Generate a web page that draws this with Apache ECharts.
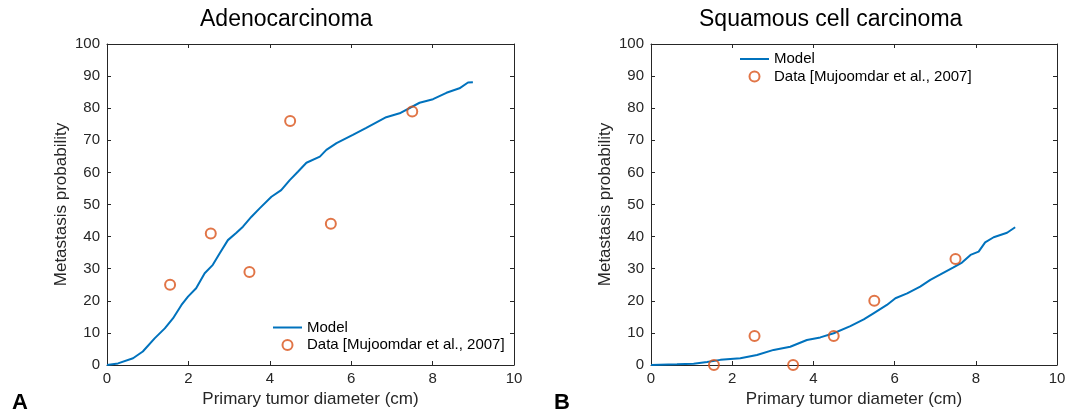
<!DOCTYPE html>
<html>
<head>
<meta charset="utf-8">
<script src="https://cdn.jsdelivr.net/npm/echarts@6/dist/echarts.min.js"></script>
<style>html,body{margin:0;padding:0;background:#fff}#c{width:1077px;height:414px}</style>
</head>
<body>
<div id="c"></div>
<script>
// ---- Data ----
const titles = ['Adenocarcinoma', 'Squamous cell carcinoma'];
const panelLabels = ['A', 'B'];
const xName = 'Primary tumor diameter (cm)';
const yName = 'Metastasis probability';
const modelName = 'Model';
const dataName = 'Data [Mujoomdar et al., 2007]';

const adenoModel = [
  [0,0],[0.27,0.5],[0.64,2.1],[0.88,4.2],[1.17,8.3],[1.42,11.4],[1.62,14.5],[1.83,18.7],
  [1.99,21.3],[2.19,23.9],[2.40,28.6],[2.60,31.2],[2.77,34.8],[2.97,38.9],[3.18,41.2],
  [3.34,43.1],[3.55,46.2],[3.75,48.8],[4.04,52.4],[4.28,54.5],[4.49,57.6],[4.69,60.2],
  [4.90,63.0],[5.23,64.9],[5.39,67.0],[5.64,69.1],[6.04,71.7],[6.37,73.9],[6.86,77.2],
  [7.19,78.4],[7.68,81.7],[8.01,82.8],[8.34,84.8],[8.66,86.2],[8.87,88.0],[8.99,88.1]
];
const adenoData = [[1.55,25],[2.55,41],[3.5,29],[4.5,76],[5.5,44],[7.5,79]];

const squamModel = [
  [0,0],[0.64,0.2],[1.05,0.4],[1.38,0.9],[1.71,1.6],[2.2,2.1],[2.61,3.1],[3.02,4.7],
  [3.43,5.7],[3.84,7.8],[4.17,8.6],[4.5,9.9],[4.91,12.1],[5.24,14.2],[5.48,16.1],
  [5.81,18.7],[6.02,20.8],[6.31,22.3],[6.63,24.4],[6.88,26.5],[7.13,28.2],[7.45,30.4],
  [7.66,31.9],[7.87,34.3],[8.07,35.3],[8.23,38.2],[8.44,39.8],[8.77,41.2],[8.97,42.9]
];
const squamData = [[1.55,0],[2.55,9],[3.5,0],[4.5,9],[5.5,20],[7.5,33]];

// ---- Styling ----
const axisColor = '#262626';
const lineColor = '#0072BD';
const dotColor = '#D95319';
const font = 'Liberation Sans, Arial, Helvetica, sans-serif';

function mainX(gi) {
  return {
    type: 'value', gridIndex: gi, min: 0, max: 10, interval: 2,
    name: xName, nameLocation: 'middle', nameGap: 25,
    nameTextStyle: { fontSize: 17, color: axisColor, fontFamily: font },
    axisLine: { show: true, onZero: false, lineStyle: { color: axisColor, width: 1 } },
    axisTick: { show: true, inside: true, length: 4, lineStyle: { color: axisColor } },
    axisLabel: { fontSize: 15, color: axisColor, fontFamily: font, margin: 6 },
    splitLine: { show: false }
  };
}
function topX(gi) {
  return {
    type: 'value', gridIndex: gi, min: 0, max: 10, interval: 2, position: 'top',
    axisLine: { show: true, onZero: false, lineStyle: { color: axisColor, width: 1 } },
    axisTick: { show: true, inside: true, length: 4, lineStyle: { color: axisColor } },
    axisLabel: { show: false }, splitLine: { show: false }
  };
}
function mainY(gi) {
  return {
    type: 'value', gridIndex: gi, min: 0, max: 100, interval: 10,
    name: yName, nameLocation: 'middle', nameGap: 37,
    nameTextStyle: { fontSize: 17, color: axisColor, fontFamily: font },
    axisLine: { show: true, onZero: false, lineStyle: { color: axisColor, width: 1 } },
    axisTick: { show: true, inside: true, length: 4, lineStyle: { color: axisColor } },
    axisLabel: { fontSize: 15, color: axisColor, fontFamily: font, margin: 7 },
    splitLine: { show: false }
  };
}
function rightY(gi) {
  return {
    type: 'value', gridIndex: gi, min: 0, max: 100, interval: 10, position: 'right',
    axisLine: { show: true, onZero: false, lineStyle: { color: axisColor, width: 1 } },
    axisTick: { show: true, inside: true, length: 4, lineStyle: { color: axisColor } },
    axisLabel: { show: false }, splitLine: { show: false }
  };
}
function modelSeries(gi, d) {
  return {
    name: modelName, type: 'line', xAxisIndex: gi, yAxisIndex: gi, data: d,
    symbol: 'none', smooth: false, lineStyle: { color: lineColor, width: 2 },
    itemStyle: { color: lineColor }, animation: false, z: 2
  };
}
function dataSeries(gi, d) {
  return {
    name: dataName, type: 'scatter', xAxisIndex: gi, yAxisIndex: gi, data: d,
    symbol: 'circle', symbolSize: 10,
    itemStyle: { color: 'rgba(0,0,0,0)', borderColor: dotColor, borderWidth: 2 },
    animation: false, z: 3
  };
}
function legend(left, top) {
  return {
    orient: 'vertical', left: left, top: top, padding: 0, itemGap: 2.5,
    itemWidth: 29, itemHeight: 10, selectedMode: false,
    textStyle: { fontSize: 15, color: '#000', fontFamily: font, lineHeight: 15 },
    data: [
      { name: modelName, itemStyle: { color: 'rgba(0,0,0,0)', borderWidth: 0, opacity: 0 } },
      dataName
    ]
  };
}

const chart = echarts.init(document.getElementById('c'), null, { renderer: 'canvas' });
chart.setOption({
  backgroundColor: '#fff',
  animation: false,
  title: [
    { text: titles[0], left: 200, top: 8, padding: 0,
      textStyle: { fontSize: 23, fontWeight: 'normal', color: '#000', fontFamily: font } },
    { text: titles[1], left: 699, top: 8, padding: 0,
      textStyle: { fontSize: 23, fontWeight: 'normal', color: '#000', fontFamily: font } },
    { text: panelLabels[0], left: 12, top: 392, padding: 0,
      textStyle: { fontSize: 22, fontWeight: 'bold', color: '#000', fontFamily: font } },
    { text: panelLabels[1], left: 554, top: 392, padding: 0,
      textStyle: { fontSize: 22, fontWeight: 'bold', color: '#000', fontFamily: font } }
  ],
  legend: [legend(272, 320), legend(739, 51.5)],
  grid: [
    { left: 107, top: 44, width: 407, height: 321, containLabel: false },
    { left: 651, top: 44, width: 406, height: 321, containLabel: false }
  ],
  xAxis: [mainX(0), mainX(1), topX(0), topX(1)],
  yAxis: [mainY(0), mainY(1), rightY(0), rightY(1)],
  series: [
    modelSeries(0, adenoModel), dataSeries(0, adenoData),
    modelSeries(1, squamModel), dataSeries(1, squamData)
  ]
});
</script>
</body>
</html>
